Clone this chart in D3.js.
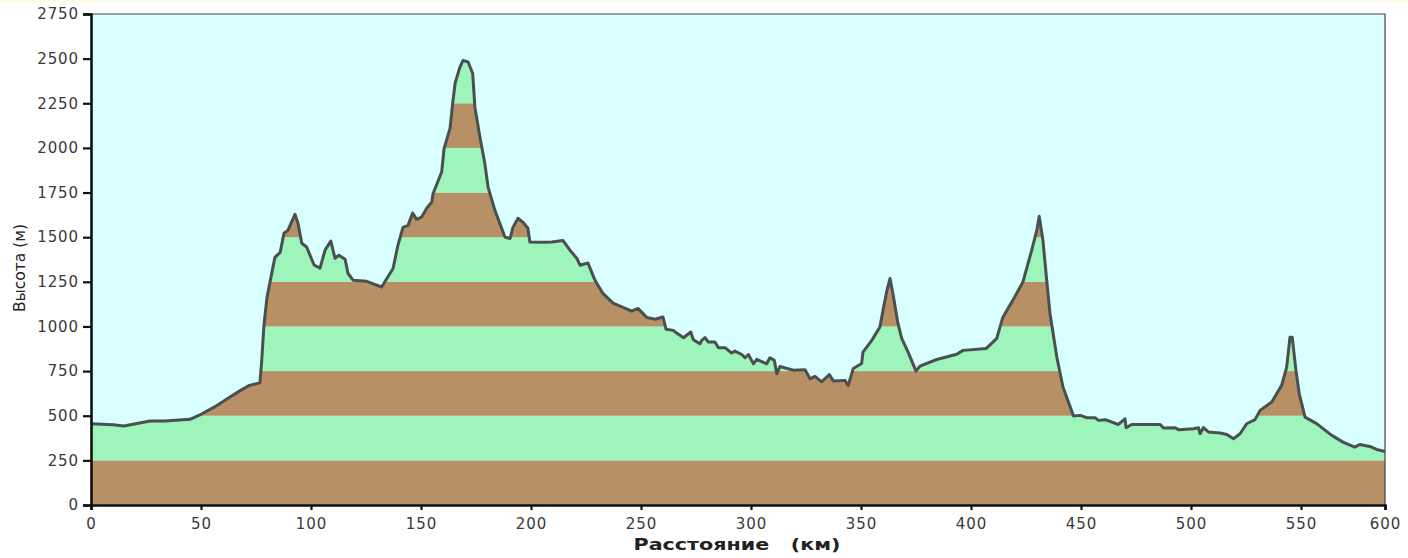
<!DOCTYPE html>
<html>
<head>
<meta charset="utf-8">
<script src="https://cdn.jsdelivr.net/npm/d3@7"></script>
<style>
  html, body { margin: 0; padding: 0; background: #fff; overflow: hidden; }
  svg { display: block; }
  .tick text { font-family: "DejaVu Sans", sans-serif; font-size: 15px; letter-spacing: 0.9px; fill: #3a3a3a; }
  .axis-label { font-family: "DejaVu Sans", sans-serif; fill: #222; }
</style>
</head>
<body>
<svg id="profile"></svg>
<script>
const distanceKm = [0, 10, 15, 26.8, 33.6, 45, 50, 56, 63, 68, 72, 76.8, 77.6, 78.6, 80, 82.7, 83.6, 86, 87.7, 89.5,
  92.7, 94.1, 95.8, 98, 101.4, 104.1, 106.4, 109, 110.9, 112.7, 115.5, 116.8, 119.1, 125.3, 132.1, 137.3, 139.5, 141.8, 144.1, 146.2,
  148, 150.3, 152.6, 154.9, 155.5, 159.4, 160.5, 163.2, 164.4, 165.5, 167.7, 169.1, 171.4, 173.5, 174.5, 176.8, 179, 180.5, 183.6, 188.2,
  190.5, 191.8, 194.1, 196.4, 198.6, 199.5, 205.5, 209.5, 214.5, 217.7, 220.8, 222.3, 225.9, 229.1, 232.7, 237.3, 241.8, 245.8, 248.6, 252.6,
  256.4, 260, 261.4, 264.7, 266.2, 269.3, 272.6, 273.8, 276.8, 277.6, 279.1, 280.6, 283.6, 285.2, 288.2, 291.2, 292.7, 295.8, 297.3, 298.8,
  301.1, 302.6, 307.1, 308.6, 310.6, 311.7, 313.2, 319.3, 324.6, 326.8, 329.1, 332.1, 335.6, 337.4, 342.7, 344.2, 346.5, 350.3, 350.9, 354.9,
  358.6, 360, 361.8, 363.2, 364.5, 366.8, 368.5, 371.4, 375, 376.8, 384.4, 393.5, 396.4, 407, 411.7, 414.5, 419, 423.6, 427.6, 429.9,
  431, 432.7, 434.4, 435.9, 439, 441.8, 446.6, 449.6, 452.6, 456.4, 457.9, 461, 467, 470, 470.5, 473, 486, 487.5, 492.8, 494.3,
  501.1, 503.4, 504.1, 505.6, 507.9, 513.2, 516.3, 519.3, 522.3, 525.3, 529.1, 531.4, 536.7, 541.2, 543.5, 545, 546, 547.7, 549.2, 552.4,
  559.3, 568.3, 575, 582, 585, 591, 595, 600];

const elevationM = [455, 450, 443, 470, 470, 480, 508, 548, 603, 642, 670, 685, 810, 1006, 1163, 1331, 1387, 1415, 1522, 1538,
  1628, 1578, 1466, 1445, 1344, 1327, 1428, 1478, 1382, 1399, 1376, 1298, 1259, 1253, 1221, 1325, 1454, 1555, 1566, 1635,
  1600, 1613, 1662, 1697, 1745, 1865, 1997, 2109, 2250, 2362, 2453, 2490, 2481, 2417, 2228, 2060, 1914, 1779, 1650, 1500,
  1493, 1555, 1606, 1583, 1550, 1473, 1471, 1473, 1482, 1427, 1382, 1343, 1355, 1258, 1185, 1131, 1107, 1086, 1101, 1051,
  1040, 1053, 984, 978, 963, 937, 969, 926, 903, 922, 937, 913, 913, 881, 881, 851, 862, 843, 825, 843,
  791, 816, 791, 825, 810, 735, 776, 755, 758, 707, 720, 690, 731, 695, 698, 670, 765, 793, 856, 922,
  997, 1090, 1202, 1269, 1185, 1017, 933, 856, 750, 778, 815, 844, 866, 877, 933, 1052, 1146, 1249, 1427, 1538,
  1617, 1483, 1259, 1073, 829, 661, 498, 502, 489, 489, 474, 478, 451, 483, 433, 451, 451, 431, 433, 422,
  427, 433, 399, 433, 409, 403, 395, 371, 399, 455, 478, 530, 577, 670, 772, 940, 940, 754, 623, 492,
  456, 390, 352, 324, 339, 328, 311, 300];

const xTicks = [0, 50, 100, 150, 200, 250, 300, 350, 400, 450, 500, 550, 600];
const yTicks = [0, 250, 500, 750, 1000, 1250, 1500, 1750, 2000, 2250, 2500, 2750];
const bandEdges = [0, 250, 500, 750, 1000, 1250, 1500, 1750, 2000, 2250, 2500];
const bandColors = ['#b79165', '#9ef5bb'];

const width = 1408, height = 558;
const margin = { top: 14, right: 23, bottom: 53, left: 91 };

const svg = d3.select('svg#profile')
  .attr('width', width)
  .attr('height', height);

// the source axis squeezes its last step: 550-600 is shorter than the others
const xScale = d3.scaleLinear()
  .domain([0, 550, 600])
  .range([margin.left, 1301, width - margin.right]);

const yScale = d3.scaleLinear()
  .domain([0, 2750])
  .range([height - margin.bottom, margin.top]);

const points = distanceKm.map((d, i) => [d, elevationM[i]]);

const area = d3.area()
  .x(d => xScale(d[0]))
  .y0(yScale(0))
  .y1(d => yScale(d[1]));

const profileLine = d3.line()
  .x(d => xScale(d[0]))
  .y(d => yScale(d[1]));

// pale strip left along the top edge of the screenshot
svg.append('rect')
  .attr('width', width).attr('height', 2)
  .attr('fill', '#fffbe6');

svg.append('rect')
  .attr('x', margin.left)
  .attr('y', margin.top)
  .attr('width', width - margin.left - margin.right)
  .attr('height', height - margin.top - margin.bottom)
  .attr('fill', '#d9ffff');

svg.append('clipPath').attr('id', 'under-profile')
  .append('path')
  .attr('d', area(points));

svg.append('g')
  .attr('clip-path', 'url(#under-profile)')
  .selectAll('rect')
  .data(bandEdges)
  .enter().append('rect')
  .attr('x', margin.left)
  .attr('y', d => yScale(d + 250))
  .attr('width', width - margin.left - margin.right)
  .attr('height', d => yScale(d) - yScale(d + 250))
  .attr('fill', (d, i) => bandColors[i % 2]);

svg.append('path')
  .attr('d', profileLine(points))
  .attr('fill', 'none')
  .attr('stroke', '#4a4f4f')
  .attr('stroke-width', 3)
  .attr('stroke-linejoin', 'round');

// thin frame on top and right
svg.append('path')
  .attr('d', `M${margin.left},${margin.top}H${width - margin.right}V${height - margin.bottom}`)
  .attr('fill', 'none')
  .attr('stroke', '#444')
  .attr('stroke-width', 1.2);

const xAxis = d3.axisBottom(xScale)
  .tickValues(xTicks)
  .tickFormat(d3.format('d'))
  .tickSizeOuter(0)
  .tickSize(5)
  .tickPadding(8);

const yAxis = d3.axisLeft(yScale)
  .tickValues(yTicks)
  .tickFormat(d3.format('d'))
  .tickSizeOuter(0)
  .tickSize(8)
  .tickPadding(4);

const xAxisG = svg.append('g')
  .attr('transform', `translate(0, ${height - margin.bottom})`)
  .call(xAxis);

const yAxisG = svg.append('g')
  .attr('transform', `translate(${margin.left}, 0)`)
  .call(yAxis);

[xAxisG, yAxisG].forEach(g => {
  g.select('.domain').attr('stroke', '#111').attr('stroke-width', 2.6);
  g.selectAll('.tick line').attr('stroke', '#111').attr('stroke-width', 2.2);
});

xAxisG.append('text')
  .attr('class', 'axis-label')
  .attr('x', 737)
  .attr('y', 45)
  .attr('text-anchor', 'middle')
  .attr('font-size', 15.5)
  .attr('font-weight', 'bold')
  .attr('fill', '#222')
  .attr('textLength', 207)
  .attr('lengthAdjust', 'spacingAndGlyphs')
  .style('white-space', 'pre')
  .text('Расстояние   (км)');

svg.append('text')
  .attr('class', 'axis-label')
  .attr('transform', `translate(25, 268) rotate(-90)`)
  .attr('text-anchor', 'middle')
  .attr('font-size', 15.5)
  .text('Высота (м)');
</script>
</body>
</html>
